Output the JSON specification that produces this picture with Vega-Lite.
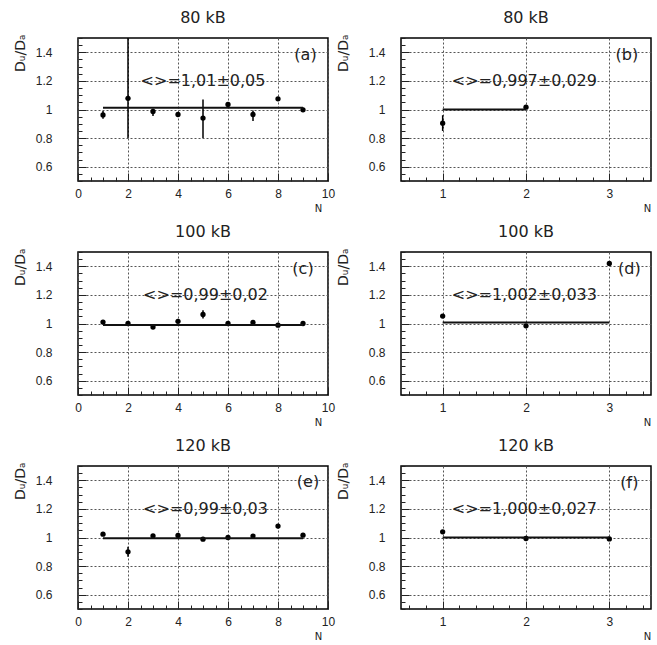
{
  "$schema": "https://vega.github.io/schema/vega-lite/v6.json",
  "padding": {"left": 12, "top": 9, "right": 4, "bottom": 2},
  "background": "white",
  "datasets": {
    "pts": [
      {"p": "a", "N": 1, "y": 0.962, "lo": 0.935, "hi": 0.99},
      {"p": "a", "N": 2, "y": 1.078, "lo": 0.8, "hi": 1.5},
      {"p": "a", "N": 3, "y": 0.986, "lo": 0.955, "hi": 1.005},
      {"p": "a", "N": 4, "y": 0.965, "lo": 0.955, "hi": 0.975},
      {"p": "a", "N": 5, "y": 0.94, "lo": 0.8, "hi": 1.07},
      {"p": "a", "N": 6, "y": 1.035, "lo": 1.025, "hi": 1.045},
      {"p": "a", "N": 7, "y": 0.965, "lo": 0.92, "hi": 0.993},
      {"p": "a", "N": 8, "y": 1.075, "lo": 1.065, "hi": 1.085},
      {"p": "a", "N": 9, "y": 0.998, "lo": 0.985, "hi": 1.012},
      {"p": "b", "N": 1, "y": 0.904, "lo": 0.85, "hi": 0.96},
      {"p": "b", "N": 2, "y": 1.016, "lo": 1.006, "hi": 1.026},
      {"p": "c", "N": 1, "y": 1.01, "lo": 1.0, "hi": 1.02},
      {"p": "c", "N": 2, "y": 1.0, "lo": 0.993, "hi": 1.007},
      {"p": "c", "N": 3, "y": 0.975, "lo": 0.965, "hi": 0.985},
      {"p": "c", "N": 4, "y": 1.015, "lo": 1.005, "hi": 1.025},
      {"p": "c", "N": 5, "y": 1.063, "lo": 1.035, "hi": 1.093},
      {"p": "c", "N": 6, "y": 1.0, "lo": 0.993, "hi": 1.007},
      {"p": "c", "N": 7, "y": 1.007, "lo": 1.0, "hi": 1.014},
      {"p": "c", "N": 8, "y": 0.988, "lo": 0.98, "hi": 0.996},
      {"p": "c", "N": 9, "y": 1.0, "lo": 0.993, "hi": 1.007},
      {"p": "d", "N": 1, "y": 1.052, "lo": 1.04, "hi": 1.064},
      {"p": "d", "N": 2, "y": 0.984, "lo": 0.975, "hi": 0.993},
      {"p": "d", "N": 3, "y": 1.42, "lo": 1.41, "hi": 1.43},
      {"p": "e", "N": 1, "y": 1.023, "lo": 1.013, "hi": 1.033},
      {"p": "e", "N": 2, "y": 0.9, "lo": 0.865, "hi": 0.935},
      {"p": "e", "N": 3, "y": 1.012, "lo": 1.005, "hi": 1.019},
      {"p": "e", "N": 4, "y": 1.014, "lo": 1.007, "hi": 1.021},
      {"p": "e", "N": 5, "y": 0.988, "lo": 0.98, "hi": 0.996},
      {"p": "e", "N": 6, "y": 1.0, "lo": 0.993, "hi": 1.007},
      {"p": "e", "N": 7, "y": 1.01, "lo": 1.003, "hi": 1.017},
      {"p": "e", "N": 8, "y": 1.08, "lo": 1.065, "hi": 1.095},
      {"p": "e", "N": 9, "y": 1.016, "lo": 1.009, "hi": 1.023},
      {"p": "f", "N": 1, "y": 1.04, "lo": 1.03, "hi": 1.05},
      {"p": "f", "N": 2, "y": 0.993, "lo": 0.985, "hi": 1.0},
      {"p": "f", "N": 3, "y": 0.99, "lo": 0.982, "hi": 0.998}
    ],
    "fits": [
      {"p": "a", "x1": 1, "x2": 9, "v": 1.012},
      {"p": "b", "x1": 1, "x2": 2, "v": 1.0},
      {"p": "c", "x1": 1, "x2": 9, "v": 0.99},
      {"p": "d", "x1": 1, "x2": 3, "v": 1.007},
      {"p": "e", "x1": 1, "x2": 9, "v": 0.995},
      {"p": "f", "x1": 1, "x2": 3, "v": 1.0}
    ],
    "notes": [
      {"p": "a", "t": "<>=1,01±0,05", "tx": 5.0, "ty": 1.2},
      {"p": "a", "t": "(a)", "tx": 9.1, "ty": 1.38},
      {"p": "b", "t": "<>=0,997±0,029", "tx": 1.98, "ty": 1.2},
      {"p": "b", "t": "(b)", "tx": 3.21, "ty": 1.38},
      {"p": "c", "t": "<>=0,99±0,02", "tx": 5.1, "ty": 1.2},
      {"p": "c", "t": "(c)", "tx": 9.0, "ty": 1.38},
      {"p": "d", "t": "<>=1,002±0,033", "tx": 1.98, "ty": 1.2},
      {"p": "d", "t": "(d)", "tx": 3.24, "ty": 1.38},
      {"p": "e", "t": "<>=0,99±0,03", "tx": 5.1, "ty": 1.2},
      {"p": "e", "t": "(e)", "tx": 9.2, "ty": 1.385},
      {"p": "f", "t": "<>=1,000±0,027", "tx": 1.98, "ty": 1.2},
      {"p": "f", "t": "(f)", "tx": 3.24, "ty": 1.38}
    ]
  },
  "columns": 2,
  "spacing": {"row": 71, "column": 73},
  "bounds": "flush",
  "concat": [
      {"title": "80  kB", "width": 250, "height": 143, "layer": [
        {"data": {"name": "pts"}, "transform": [{"filter": "datum.p=='a'"}], "mark": {"type": "rule", "color": "black", "strokeWidth": 1.5, "clip": true},
         "encoding": {
           "x": {"field": "N", "type": "quantitative", "title": "N", "scale": {"domain": [0, 10], "nice": false, "zero": false}, "axis": {"tickCount": 100, "labelOverlap": false, "values": [0,0.5,1,1.5,2,2.5,3,3.5,4,4.5,5,5.5,6,6.5,7,7.5,8,8.5,9,9.5,10], "labelExpr": "round(datum.value*2)%4==0 ? ''+datum.value : ''", "gridOpacity": {"condition": {"test": "round(datum.value*2)%4==0", "value": 1}, "value": 0}, "tickSize": {"condition": {"test": "round(datum.value*2)%4==0", "value": -8}, "value": -4}}},
           "y": {"field": "lo", "type": "quantitative", "title": "Dᵤ/Dₐ", "scale": {"domain": [0.5, 1.5], "nice": false, "zero": false}, "axis": {"labelPadding": 34, "tickCount": 100, "labelOverlap": false, "values": [0.5,0.55,0.6,0.65,0.7,0.75,0.8,0.85,0.9,0.95,1,1.05,1.1,1.15,1.2,1.25,1.3,1.35,1.4,1.45,1.5], "labelExpr": "round(datum.value*20)%4==0 ? ''+(round(datum.value*10)/10) : ''", "gridOpacity": {"condition": {"test": "round(datum.value*20)%4==0", "value": 1}, "value": 0}, "tickSize": {"condition": {"test": "round(datum.value*20)%4==0", "value": -8}, "value": -4}}},
           "y2": {"field": "hi"}}},
        {"data": {"name": "pts"}, "transform": [{"filter": "datum.p=='a'"}], "mark": {"type": "circle", "size": 28, "color": "black", "opacity": 1},
         "encoding": {"x": {"field": "N", "type": "quantitative"}, "y": {"field": "y", "type": "quantitative"}}},
        {"data": {"name": "fits"}, "transform": [{"filter": "datum.p=='a'"}], "mark": {"type": "rule", "color": "#111", "strokeWidth": 2},
         "encoding": {"x": {"field": "x1", "type": "quantitative"}, "x2": {"field": "x2"}, "y": {"field": "v", "type": "quantitative"}}},
        {"data": {"name": "notes"}, "transform": [{"filter": "datum.p=='a'"}], "mark": {"type": "text", "fontSize": 16, "color": "#222"},
         "encoding": {"x": {"field": "tx", "type": "quantitative"}, "y": {"field": "ty", "type": "quantitative"}, "text": {"field": "t"}}}
      ]},
      {"title": "80  kB", "width": 250, "height": 143, "layer": [
        {"data": {"name": "pts"}, "transform": [{"filter": "datum.p=='b'"}], "mark": {"type": "rule", "color": "black", "strokeWidth": 1.5, "clip": true},
         "encoding": {
           "x": {"field": "N", "type": "quantitative", "title": "N", "scale": {"domain": [0.5, 3.5], "nice": false, "zero": false}, "axis": {"tickCount": 100, "labelOverlap": false, "values": [0.6,0.8,1,1.2,1.4,1.6,1.8,2,2.2,2.4,2.6,2.8,3,3.2,3.4], "labelExpr": "round(datum.value*5)%5==0 ? ''+round(datum.value) : ''", "gridOpacity": {"condition": {"test": "round(datum.value*5)%5==0", "value": 1}, "value": 0}, "tickSize": {"condition": {"test": "round(datum.value*5)%5==0", "value": -8}, "value": -4}, "titleX": 246}},
           "y": {"field": "lo", "type": "quantitative", "title": "Dᵤ/Dₐ", "scale": {"domain": [0.5, 1.5], "nice": false, "zero": false}, "axis": {"tickCount": 100, "labelOverlap": false, "values": [0.5,0.55,0.6,0.65,0.7,0.75,0.8,0.85,0.9,0.95,1,1.05,1.1,1.15,1.2,1.25,1.3,1.35,1.4,1.45,1.5], "labelExpr": "round(datum.value*20)%4==0 ? ''+(round(datum.value*10)/10) : ''", "gridOpacity": {"condition": {"test": "round(datum.value*20)%4==0", "value": 1}, "value": 0}, "tickSize": {"condition": {"test": "round(datum.value*20)%4==0", "value": -8}, "value": -4}}},
           "y2": {"field": "hi"}}},
        {"data": {"name": "pts"}, "transform": [{"filter": "datum.p=='b'"}], "mark": {"type": "circle", "size": 28, "color": "black", "opacity": 1},
         "encoding": {"x": {"field": "N", "type": "quantitative"}, "y": {"field": "y", "type": "quantitative"}}},
        {"data": {"name": "fits"}, "transform": [{"filter": "datum.p=='b'"}], "mark": {"type": "rule", "color": "#111", "strokeWidth": 2},
         "encoding": {"x": {"field": "x1", "type": "quantitative"}, "x2": {"field": "x2"}, "y": {"field": "v", "type": "quantitative"}}},
        {"data": {"name": "notes"}, "transform": [{"filter": "datum.p=='b'"}], "mark": {"type": "text", "fontSize": 16, "color": "#222"},
         "encoding": {"x": {"field": "tx", "type": "quantitative"}, "y": {"field": "ty", "type": "quantitative"}, "text": {"field": "t"}}}
      ]},
      {"title": "100  kB", "width": 250, "height": 143, "layer": [
        {"data": {"name": "pts"}, "transform": [{"filter": "datum.p=='c'"}], "mark": {"type": "rule", "color": "black", "strokeWidth": 1.5, "clip": true},
         "encoding": {
           "x": {"field": "N", "type": "quantitative", "title": "N", "scale": {"domain": [0, 10], "nice": false, "zero": false}, "axis": {"tickCount": 100, "labelOverlap": false, "values": [0,0.5,1,1.5,2,2.5,3,3.5,4,4.5,5,5.5,6,6.5,7,7.5,8,8.5,9,9.5,10], "labelExpr": "round(datum.value*2)%4==0 ? ''+datum.value : ''", "gridOpacity": {"condition": {"test": "round(datum.value*2)%4==0", "value": 1}, "value": 0}, "tickSize": {"condition": {"test": "round(datum.value*2)%4==0", "value": -8}, "value": -4}}},
           "y": {"field": "lo", "type": "quantitative", "title": "Dᵤ/Dₐ", "scale": {"domain": [0.5, 1.5], "nice": false, "zero": false}, "axis": {"labelPadding": 34, "tickCount": 100, "labelOverlap": false, "values": [0.5,0.55,0.6,0.65,0.7,0.75,0.8,0.85,0.9,0.95,1,1.05,1.1,1.15,1.2,1.25,1.3,1.35,1.4,1.45,1.5], "labelExpr": "round(datum.value*20)%4==0 ? ''+(round(datum.value*10)/10) : ''", "gridOpacity": {"condition": {"test": "round(datum.value*20)%4==0", "value": 1}, "value": 0}, "tickSize": {"condition": {"test": "round(datum.value*20)%4==0", "value": -8}, "value": -4}}},
           "y2": {"field": "hi"}}},
        {"data": {"name": "pts"}, "transform": [{"filter": "datum.p=='c'"}], "mark": {"type": "circle", "size": 28, "color": "black", "opacity": 1},
         "encoding": {"x": {"field": "N", "type": "quantitative"}, "y": {"field": "y", "type": "quantitative"}}},
        {"data": {"name": "fits"}, "transform": [{"filter": "datum.p=='c'"}], "mark": {"type": "rule", "color": "#111", "strokeWidth": 2},
         "encoding": {"x": {"field": "x1", "type": "quantitative"}, "x2": {"field": "x2"}, "y": {"field": "v", "type": "quantitative"}}},
        {"data": {"name": "notes"}, "transform": [{"filter": "datum.p=='c'"}], "mark": {"type": "text", "fontSize": 16, "color": "#222"},
         "encoding": {"x": {"field": "tx", "type": "quantitative"}, "y": {"field": "ty", "type": "quantitative"}, "text": {"field": "t"}}}
      ]},
      {"title": "100  kB", "width": 250, "height": 143, "layer": [
        {"data": {"name": "pts"}, "transform": [{"filter": "datum.p=='d'"}], "mark": {"type": "rule", "color": "black", "strokeWidth": 1.5, "clip": true},
         "encoding": {
           "x": {"field": "N", "type": "quantitative", "title": "N", "scale": {"domain": [0.5, 3.5], "nice": false, "zero": false}, "axis": {"tickCount": 100, "labelOverlap": false, "values": [0.6,0.8,1,1.2,1.4,1.6,1.8,2,2.2,2.4,2.6,2.8,3,3.2,3.4], "labelExpr": "round(datum.value*5)%5==0 ? ''+round(datum.value) : ''", "gridOpacity": {"condition": {"test": "round(datum.value*5)%5==0", "value": 1}, "value": 0}, "tickSize": {"condition": {"test": "round(datum.value*5)%5==0", "value": -8}, "value": -4}, "titleX": 246}},
           "y": {"field": "lo", "type": "quantitative", "title": "Dᵤ/Dₐ", "scale": {"domain": [0.5, 1.5], "nice": false, "zero": false}, "axis": {"tickCount": 100, "labelOverlap": false, "values": [0.5,0.55,0.6,0.65,0.7,0.75,0.8,0.85,0.9,0.95,1,1.05,1.1,1.15,1.2,1.25,1.3,1.35,1.4,1.45,1.5], "labelExpr": "round(datum.value*20)%4==0 ? ''+(round(datum.value*10)/10) : ''", "gridOpacity": {"condition": {"test": "round(datum.value*20)%4==0", "value": 1}, "value": 0}, "tickSize": {"condition": {"test": "round(datum.value*20)%4==0", "value": -8}, "value": -4}}},
           "y2": {"field": "hi"}}},
        {"data": {"name": "pts"}, "transform": [{"filter": "datum.p=='d'"}], "mark": {"type": "circle", "size": 28, "color": "black", "opacity": 1},
         "encoding": {"x": {"field": "N", "type": "quantitative"}, "y": {"field": "y", "type": "quantitative"}}},
        {"data": {"name": "fits"}, "transform": [{"filter": "datum.p=='d'"}], "mark": {"type": "rule", "color": "#111", "strokeWidth": 2},
         "encoding": {"x": {"field": "x1", "type": "quantitative"}, "x2": {"field": "x2"}, "y": {"field": "v", "type": "quantitative"}}},
        {"data": {"name": "notes"}, "transform": [{"filter": "datum.p=='d'"}], "mark": {"type": "text", "fontSize": 16, "color": "#222"},
         "encoding": {"x": {"field": "tx", "type": "quantitative"}, "y": {"field": "ty", "type": "quantitative"}, "text": {"field": "t"}}}
      ]},
      {"title": "120  kB", "width": 250, "height": 143, "layer": [
        {"data": {"name": "pts"}, "transform": [{"filter": "datum.p=='e'"}], "mark": {"type": "rule", "color": "black", "strokeWidth": 1.5, "clip": true},
         "encoding": {
           "x": {"field": "N", "type": "quantitative", "title": "N", "scale": {"domain": [0, 10], "nice": false, "zero": false}, "axis": {"tickCount": 100, "labelOverlap": false, "values": [0,0.5,1,1.5,2,2.5,3,3.5,4,4.5,5,5.5,6,6.5,7,7.5,8,8.5,9,9.5,10], "labelExpr": "round(datum.value*2)%4==0 ? ''+datum.value : ''", "gridOpacity": {"condition": {"test": "round(datum.value*2)%4==0", "value": 1}, "value": 0}, "tickSize": {"condition": {"test": "round(datum.value*2)%4==0", "value": -8}, "value": -4}}},
           "y": {"field": "lo", "type": "quantitative", "title": "Dᵤ/Dₐ", "scale": {"domain": [0.5, 1.5], "nice": false, "zero": false}, "axis": {"labelPadding": 34, "tickCount": 100, "labelOverlap": false, "values": [0.5,0.55,0.6,0.65,0.7,0.75,0.8,0.85,0.9,0.95,1,1.05,1.1,1.15,1.2,1.25,1.3,1.35,1.4,1.45,1.5], "labelExpr": "round(datum.value*20)%4==0 ? ''+(round(datum.value*10)/10) : ''", "gridOpacity": {"condition": {"test": "round(datum.value*20)%4==0", "value": 1}, "value": 0}, "tickSize": {"condition": {"test": "round(datum.value*20)%4==0", "value": -8}, "value": -4}}},
           "y2": {"field": "hi"}}},
        {"data": {"name": "pts"}, "transform": [{"filter": "datum.p=='e'"}], "mark": {"type": "circle", "size": 28, "color": "black", "opacity": 1},
         "encoding": {"x": {"field": "N", "type": "quantitative"}, "y": {"field": "y", "type": "quantitative"}}},
        {"data": {"name": "fits"}, "transform": [{"filter": "datum.p=='e'"}], "mark": {"type": "rule", "color": "#111", "strokeWidth": 2},
         "encoding": {"x": {"field": "x1", "type": "quantitative"}, "x2": {"field": "x2"}, "y": {"field": "v", "type": "quantitative"}}},
        {"data": {"name": "notes"}, "transform": [{"filter": "datum.p=='e'"}], "mark": {"type": "text", "fontSize": 16, "color": "#222"},
         "encoding": {"x": {"field": "tx", "type": "quantitative"}, "y": {"field": "ty", "type": "quantitative"}, "text": {"field": "t"}}}
      ]},
      {"title": "120  kB", "width": 250, "height": 143, "layer": [
        {"data": {"name": "pts"}, "transform": [{"filter": "datum.p=='f'"}], "mark": {"type": "rule", "color": "black", "strokeWidth": 1.5, "clip": true},
         "encoding": {
           "x": {"field": "N", "type": "quantitative", "title": "N", "scale": {"domain": [0.5, 3.5], "nice": false, "zero": false}, "axis": {"tickCount": 100, "labelOverlap": false, "values": [0.6,0.8,1,1.2,1.4,1.6,1.8,2,2.2,2.4,2.6,2.8,3,3.2,3.4], "labelExpr": "round(datum.value*5)%5==0 ? ''+round(datum.value) : ''", "gridOpacity": {"condition": {"test": "round(datum.value*5)%5==0", "value": 1}, "value": 0}, "tickSize": {"condition": {"test": "round(datum.value*5)%5==0", "value": -8}, "value": -4}, "titleX": 246}},
           "y": {"field": "lo", "type": "quantitative", "title": "Dᵤ/Dₐ", "scale": {"domain": [0.5, 1.5], "nice": false, "zero": false}, "axis": {"tickCount": 100, "labelOverlap": false, "values": [0.5,0.55,0.6,0.65,0.7,0.75,0.8,0.85,0.9,0.95,1,1.05,1.1,1.15,1.2,1.25,1.3,1.35,1.4,1.45,1.5], "labelExpr": "round(datum.value*20)%4==0 ? ''+(round(datum.value*10)/10) : ''", "gridOpacity": {"condition": {"test": "round(datum.value*20)%4==0", "value": 1}, "value": 0}, "tickSize": {"condition": {"test": "round(datum.value*20)%4==0", "value": -8}, "value": -4}}},
           "y2": {"field": "hi"}}},
        {"data": {"name": "pts"}, "transform": [{"filter": "datum.p=='f'"}], "mark": {"type": "circle", "size": 28, "color": "black", "opacity": 1},
         "encoding": {"x": {"field": "N", "type": "quantitative"}, "y": {"field": "y", "type": "quantitative"}}},
        {"data": {"name": "fits"}, "transform": [{"filter": "datum.p=='f'"}], "mark": {"type": "rule", "color": "#111", "strokeWidth": 2},
         "encoding": {"x": {"field": "x1", "type": "quantitative"}, "x2": {"field": "x2"}, "y": {"field": "v", "type": "quantitative"}}},
        {"data": {"name": "notes"}, "transform": [{"filter": "datum.p=='f'"}], "mark": {"type": "text", "fontSize": 16, "color": "#222"},
         "encoding": {"x": {"field": "tx", "type": "quantitative"}, "y": {"field": "ty", "type": "quantitative"}, "text": {"field": "t"}}}
      ]}
  ],
  "config": {
    "font": "DejaVu Sans",
    "view": {"stroke": "black", "strokeWidth": 1.5},
    "title": {"fontSize": 16, "fontWeight": "normal", "offset": 6, "color": "#222", "font": "DejaVu Sans"},
    "axis": {"domain": false, "labelFont": "Liberation Sans", "labelFontSize": 12, "labelColor": "#222", "gridDash": [2, 2], "gridColor": "#555", "tickColor": "#222", "labelOverlap": false, "labelFlush": false, "titleFont": "DejaVu Sans", "titleFontWeight": "normal", "titleColor": "#222"},
    "axisX": {"labelPadding": 15, "titleFontSize": 10, "titleX": 240, "titleY": 30, "titleAlign": "center", "titleBaseline": "alphabetic"},
    "axisY": {"labelPadding": 24, "titleFontSize": 14, "titleX": -58, "titleY": -4, "titleAngle": 270, "titleAlign": "right", "titleBaseline": "middle"}
  }
}
